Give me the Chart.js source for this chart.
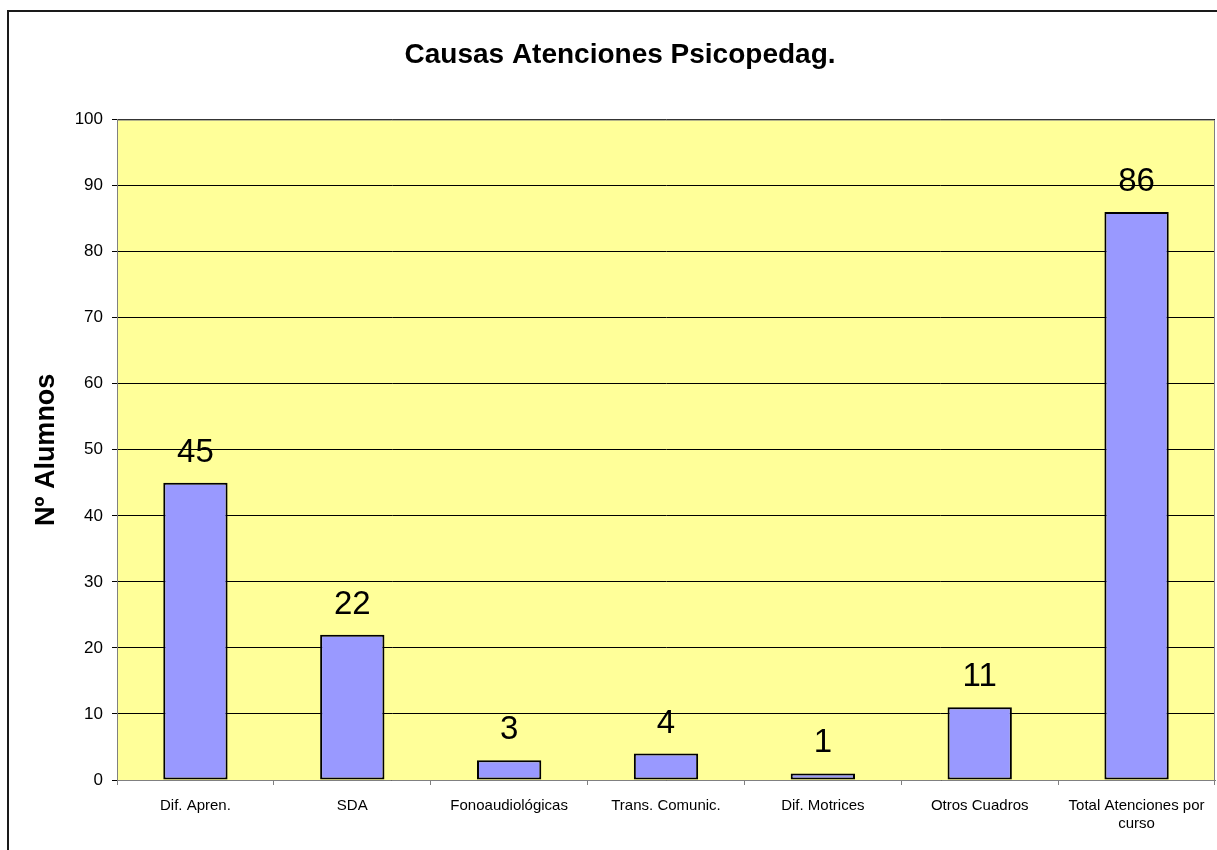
<!DOCTYPE html>
<html>
<head>
<meta charset="utf-8">
<script src="https://cdn.jsdelivr.net/npm/chart.js@4/dist/chart.umd.min.js"></script>
<style>
  html, body { margin: 0; padding: 0; background: #fff; overflow: hidden; }
  #frame {
    position: absolute; left: 7px; top: 10px;
    width: 1222px; height: 840px;
    border-left: 2px solid #1a1a1a; border-top: 2px solid #1a1a1a;
  }
  canvas { display: block; }
</style>
</head>
<body>
<div id="frame"><canvas id="grafico" width="1222" height="838"></canvas></div>
<script>
// Datos del gráfico
const categorias = ['Dif. Apren.', 'SDA', 'Fonoaudiológicas', 'Trans. Comunic.', 'Dif. Motrices', 'Otros Cuadros', ['Total Atenciones por', 'curso']];
const alumnos = [45, 22, 3, 4, 1, 11, 86];
const tituloGrafico = 'Causas Atenciones Psicopedag.';
const tituloEjeY = 'Nº Alumnos';

const fuente = 'Arial, "Liberation Sans", sans-serif';
Chart.defaults.font.family = fuente;
Chart.defaults.color = '#000';

// Fondo amarillo del área de trazado y borde gris
const fondoArea = {
    id: 'fondoArea',
    beforeDraw(chart) {
        const { ctx, chartArea: a } = chart;
        ctx.save();
        ctx.fillStyle = '#FFFF99';
        ctx.fillRect(a.left, a.top, a.right - a.left, a.bottom - a.top);
        ctx.restore();
    },
    afterDraw(chart) {
        const { ctx, chartArea: a } = chart;
        ctx.save();
        ctx.strokeStyle = '#808080';
        ctx.lineWidth = 1;
        ctx.beginPath();
        ctx.moveTo(a.left, a.top + 0.5);
        ctx.lineTo(a.right - 0.5, a.top + 0.5);
        ctx.lineTo(a.right - 0.5, a.bottom);
        ctx.stroke();
        ctx.restore();
    }
};

// Etiquetas de valor sobre las barras
const etiquetasValor = {
    id: 'etiquetasValor',
    afterDatasetsDraw(chart) {
        const { ctx } = chart;
        const meta = chart.getDatasetMeta(0);
        ctx.save();
        ctx.font = '33px ' + fuente;
        ctx.fillStyle = '#000';
        ctx.textAlign = 'center';
        ctx.textBaseline = 'alphabetic';
        meta.data.forEach((bar, i) => {
            ctx.fillText(String(alumnos[i]), bar.x, bar.y - 21);
        });
        ctx.restore();
    }
};

new Chart(document.getElementById('grafico'), {
    type: 'bar',
    data: {
        labels: categorias,
        datasets: [{
            label: tituloEjeY,
            data: alumnos,
            backgroundColor: '#9999FF',
            borderColor: '#000',
            borderWidth: 2,
            borderSkipped: false,
            categoryPercentage: 0.41,
            barPercentage: 1
        }]
    },
    options: {
        responsive: false,
        animation: false,
        plugins: {
            legend: { display: false },
            tooltip: { enabled: false },
            title: {
                display: true,
                text: tituloGrafico,
                font: { size: 28, weight: 'bold' },
                color: '#000',
                padding: { top: 26, bottom: 48 }
            }
        },
        scales: {
            x: {
                afterFit(scale) { scale.height = 70; },
                grid: {
                    offset: true,
                    drawOnChartArea: false,
                    drawTicks: true,
                    tickLength: 5,
                    color: '#808080'
                },
                border: { color: '#808080', width: 1 },
                ticks: {
                    font: { size: 15 },
                    color: '#000',
                    padding: 12,
                    maxRotation: 0,
                    autoSkip: false
                }
            },
            y: {
                min: 0,
                max: 100,
                afterFit(scale) { scale.width = 108; },
                grid: {
                    color: '#000',
                    tickColor: '#000',
                    tickLength: 5,
                    lineWidth: 1
                },
                border: { color: '#808080', width: 1 },
                ticks: {
                    stepSize: 10,
                    font: { size: 17 },
                    color: '#000',
                    padding: 9
                },
                title: {
                    display: true,
                    text: tituloEjeY,
                    font: { size: 27, weight: 'bold' },
                    color: '#000',
                    padding: { top: 21, bottom: 0 }
                }
            },
            // margen derecho, para que el título quede centrado en todo el lienzo
            margen: {
                position: 'right',
                afterFit(scale) { scale.width = 16; },
                grid: { display: false },
                border: { display: false },
                ticks: { display: false }
            }
        }
    },
    plugins: [fondoArea, etiquetasValor]
});
</script>
</body>
</html>
